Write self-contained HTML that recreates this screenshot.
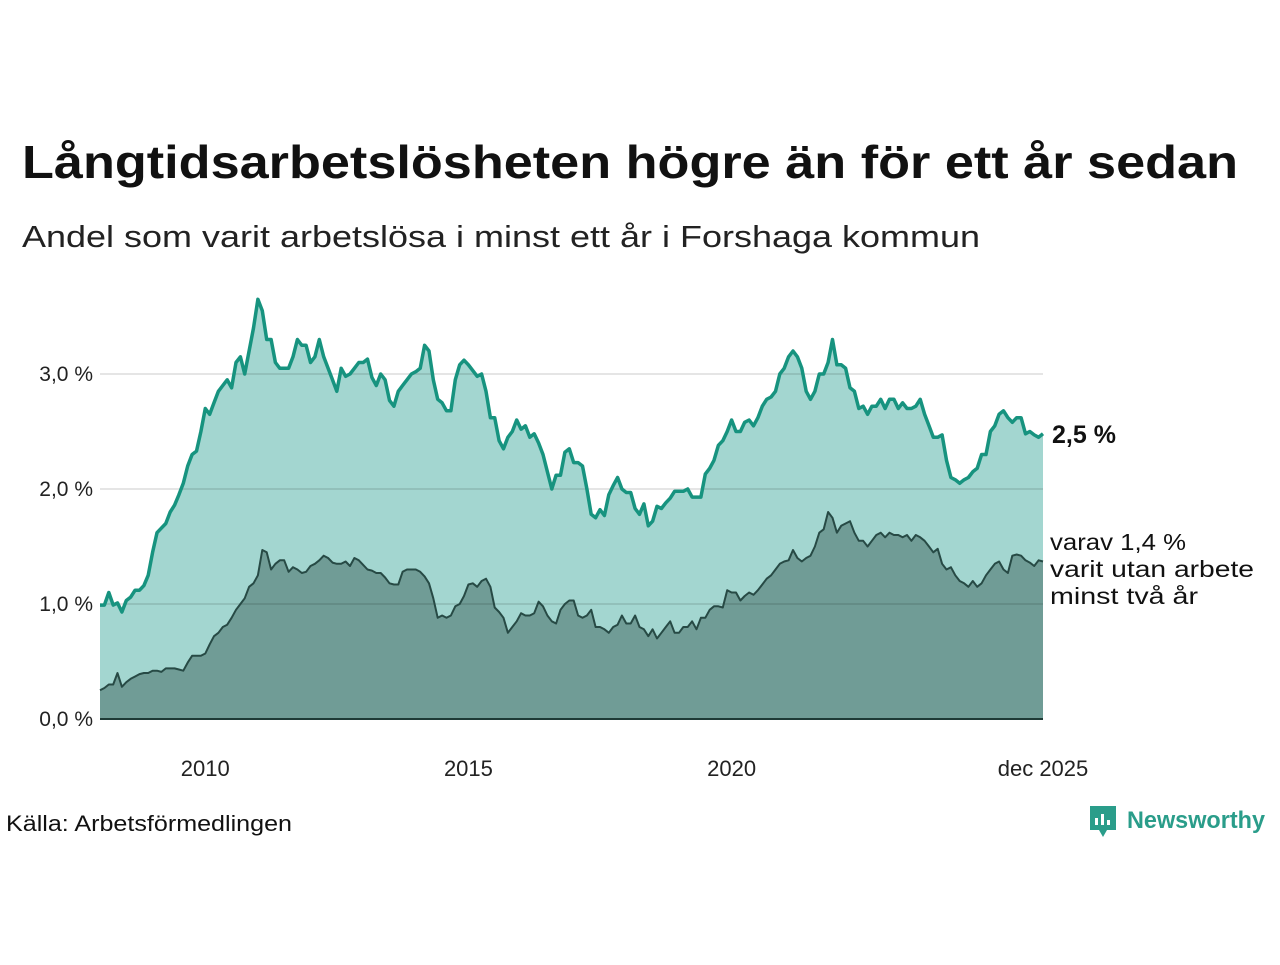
<!DOCTYPE html>
<html><head><meta charset="utf-8"><style>
body{margin:0;background:#fff;width:1280px;height:960px;overflow:hidden;font-family:"Liberation Sans",sans-serif;}
svg text{font-family:"Liberation Sans",sans-serif;}
</style></head><body>
<svg id="c" width="1280" height="960">
<text x="22" y="178" font-size="46" font-weight="bold" fill="#111" textLength="1216" lengthAdjust="spacingAndGlyphs">Långtidsarbetslösheten högre än för ett år sedan</text>
<text x="22" y="247" font-size="31" fill="#222" textLength="958" lengthAdjust="spacingAndGlyphs">Andel som varit arbetslösa i minst ett år i Forshaga kommun</text>
<g id="plot"></g>
<text x="6" y="831" font-size="22" fill="#111" textLength="286" lengthAdjust="spacingAndGlyphs">Källa: Arbetsförmedlingen</text>
<g>
<path d="M1090 806h26v24h-9l-4 7-4-7h-9z" fill="#2a9d8a"/>
<rect x="1095" y="818" width="3" height="7" fill="#fff"/><rect x="1101" y="814" width="3" height="11" fill="#fff"/><rect x="1107" y="820" width="3" height="5" fill="#fff"/>
<text x="1127" y="828" font-size="24" font-weight="bold" fill="#2a9d8a" textLength="138" lengthAdjust="spacingAndGlyphs">Newsworthy</text>
</g>
</svg>
<script>
const startYear = 2008;
const yTicks = [0,1,2,3];
const yTickLabels = ["0,0 %","1,0 %","2,0 %","3,0 %"];
const xTickMonths = [24,84,144,215];
const xTickLabels = ["2010","2015","2020","dec 2025"];
const total = [
0.99,0.99,1.10,0.99,1.01,0.93,1.03,1.06,1.12,1.12,1.16,1.25,
1.45,1.62,1.66,1.70,1.80,1.86,1.95,2.05,2.20,2.30,2.33,2.50,
2.70,2.65,2.75,2.85,2.90,2.95,2.88,3.10,3.15,3.00,3.20,3.40,
3.65,3.55,3.30,3.30,3.10,3.05,3.05,3.05,3.15,3.30,3.25,3.25,
3.10,3.15,3.30,3.15,3.05,2.95,2.85,3.05,2.98,3.00,3.05,3.10,
3.10,3.13,2.97,2.90,3.00,2.95,2.77,2.72,2.85,2.90,2.95,3.00,
3.02,3.05,3.25,3.20,2.95,2.78,2.75,2.68,2.68,2.95,3.08,3.12,
3.08,3.03,2.98,3.00,2.85,2.62,2.62,2.42,2.35,2.45,2.50,2.60,
2.52,2.55,2.45,2.48,2.40,2.30,2.15,2.00,2.12,2.12,2.32,2.35,
2.23,2.23,2.20,2.00,1.78,1.75,1.82,1.77,1.95,2.03,2.10,2.00,
1.97,1.97,1.83,1.78,1.87,1.68,1.72,1.85,1.83,1.88,1.92,1.98,
1.98,1.98,2.00,1.93,1.93,1.93,2.13,2.18,2.25,2.38,2.42,2.50,
2.60,2.50,2.50,2.58,2.60,2.55,2.62,2.72,2.78,2.80,2.85,3.00,
3.05,3.15,3.20,3.15,3.05,2.85,2.78,2.85,3.00,3.00,3.10,3.30,
3.08,3.08,3.05,2.88,2.85,2.70,2.72,2.65,2.72,2.72,2.78,2.70,
2.78,2.78,2.70,2.75,2.70,2.70,2.72,2.78,2.65,2.55,2.45,2.45,
2.47,2.25,2.10,2.08,2.05,2.08,2.10,2.15,2.18,2.30,2.30,2.50,
2.55,2.65,2.68,2.62,2.58,2.62,2.62,2.48,2.50,2.47,2.45,2.48];
const twoYears = [
0.25,0.27,0.30,0.30,0.40,0.28,0.32,0.35,0.37,0.39,0.40,0.40,
0.42,0.42,0.41,0.44,0.44,0.44,0.43,0.42,0.49,0.55,0.55,0.55,
0.57,0.65,0.72,0.75,0.80,0.82,0.88,0.95,1.00,1.05,1.15,1.18,
1.25,1.47,1.45,1.30,1.35,1.38,1.38,1.28,1.32,1.30,1.27,1.28,
1.33,1.35,1.38,1.42,1.40,1.36,1.35,1.35,1.37,1.33,1.40,1.38,
1.34,1.30,1.29,1.27,1.27,1.23,1.18,1.17,1.17,1.28,1.30,1.30,
1.30,1.28,1.24,1.18,1.05,0.88,0.90,0.88,0.90,0.98,1.00,1.07,
1.17,1.18,1.15,1.20,1.22,1.15,0.97,0.93,0.88,0.75,0.80,0.85,
0.92,0.90,0.90,0.92,1.02,0.98,0.90,0.85,0.83,0.95,1.00,1.03,
1.03,0.90,0.88,0.90,0.95,0.80,0.80,0.78,0.75,0.80,0.82,0.90,
0.83,0.83,0.90,0.80,0.78,0.72,0.78,0.70,0.75,0.80,0.85,0.75,
0.75,0.80,0.80,0.85,0.78,0.88,0.88,0.95,0.98,0.98,0.97,1.12,
1.10,1.10,1.03,1.07,1.10,1.08,1.12,1.17,1.22,1.25,1.30,1.35,
1.37,1.38,1.47,1.40,1.37,1.40,1.42,1.50,1.62,1.65,1.80,1.75,
1.62,1.68,1.70,1.72,1.62,1.55,1.55,1.50,1.55,1.60,1.62,1.58,
1.62,1.60,1.60,1.58,1.60,1.55,1.60,1.58,1.55,1.50,1.45,1.48,
1.35,1.30,1.32,1.25,1.20,1.18,1.15,1.20,1.15,1.18,1.25,1.30,
1.35,1.37,1.30,1.27,1.42,1.43,1.42,1.38,1.36,1.33,1.38,1.37];

const NS="http://www.w3.org/2000/svg";
const g=document.getElementById('plot');
const x0=100,x1=1043,yBase=719,pxPer=115;
const n=total.length;
const X=i=>x0+(x1-x0)*i/(n-1);
const Y=v=>yBase-v*pxPer;
function mk(tag,attrs){const e=document.createElementNS(NS,tag);for(const k in attrs)e.setAttribute(k,attrs[k]);g.appendChild(e);return e;}
function linePts(arr){return arr.map((v,i)=>X(i).toFixed(1)+','+Y(v).toFixed(1)).join(' ');}
function areaPts(arr){return X(0)+','+yBase+' '+linePts(arr)+' '+X(n-1)+','+yBase;}
let e;
e=mk('polygon',{points:areaPts(total),fill:'#a3d6d0'});


e=mk('polygon',{points:areaPts(twoYears),fill:'#709c96'});


yTicks.forEach((t,i)=>{
  if(t>0){e=mk('line',{x1:x0,x2:x1,y1:Y(t),y2:Y(t),stroke:'rgba(0,0,0,0.1)','stroke-width':2});
  
  }
  e=mk('text',{x:93,y:Y(t)+7,'text-anchor':'end','font-size':21,fill:'#222'});
  e.textContent=yTickLabels[i];
  
  
});
e=mk('polyline',{points:linePts(twoYears),fill:'none',stroke:'#274a45','stroke-width':2,'stroke-linejoin':'round'});


e=mk('polyline',{points:linePts(total),fill:'none',stroke:'#17937f','stroke-width':3.5,'stroke-linejoin':'round'});


e=mk('line',{x1:x0,x2:x1,y1:yBase,y2:yBase,stroke:'#1e3a36','stroke-width':2});


xTickMonths.forEach((m,i)=>{
  e=mk('text',{x:X(m),y:776,'text-anchor':'middle','font-size':22,fill:'#222'});
  e.textContent=xTickLabels[i];
  
  
});
const lastT=total[n-1],lastB=twoYears[n-1];
e=mk('text',{x:1052,y:Y(lastT)+9,'font-size':25,'font-weight':'bold',fill:'#111'});
e.textContent=lastT.toFixed(1).replace('.',',')+' %';


const lines=['varav '+lastB.toFixed(1).replace('.',',')+' %','varit utan arbete','minst två år'];
const lens=[136,204,148];
lines.forEach((s,i)=>{
  e=mk('text',{x:1050,y:550+i*27,'font-size':23,fill:'#111',textLength:lens[i],lengthAdjust:'spacingAndGlyphs'});
  e.textContent=s;
  
  
});
</script>
</body></html>
